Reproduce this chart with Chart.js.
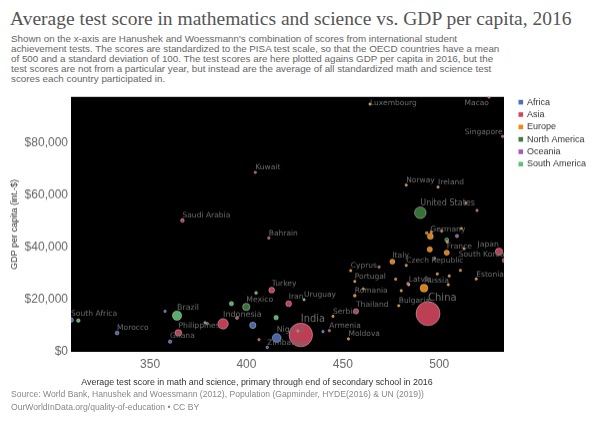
<!DOCTYPE html>
<html>
<head>
<meta charset="utf-8">
<script src="https://cdn.jsdelivr.net/npm/chart.js@4.4.1/dist/chart.umd.min.js"></script>
<style>
  body { margin: 0; width: 600px; height: 424px; background: #fff; position: relative; overflow: hidden;
         font-family: "Liberation Sans", Arial, sans-serif; }
  #title { position: absolute; left: 10px; top: 8px; font-family: "Liberation Serif", serif;
           font-size: 19.5px; color: #555; white-space: nowrap; }
  #subtitle { position: absolute; left: 11px; top: 34px; font-size: 9.8px; line-height: 10.1px;
              color: #666; white-space: nowrap; }
  #chartBox { position: absolute; left: 0; top: 84.3px; width: 600px; height: 305.7px; }
  #footer { position: absolute; left: 11px; top: 388px; font-size: 8.6px; line-height: 12.5px; color: #888; white-space: nowrap; }
</style>
</head>
<body>
<div id="title">Average test score in mathematics and science vs. GDP per capita, 2016</div>
<div id="subtitle">Shown on the x-axis are Hanushek and Woessmann's combination of scores from international student<br>achievement tests. The scores are standardized to the PISA test scale, so that the OECD countries have a mean<br>of 500 and a standard deviation of 100. The test scores are here plotted agains GDP per capita in 2016, but the<br>test scores are not from a particular year, but instead are the average of all standardized math and science test<br>scores each country participated in.</div>
<div id="chartBox"><canvas id="scatterCanvas"></canvas></div>
<div id="footer">Source: World Bank, Hanushek and Woessmann (2012), Population (Gapminder, HYDE(2016) &amp; UN (2019))<br>OurWorldInData.org/quality-of-education • CC BY</div>
<script>
// values
const countries = [
  "South Africa","Morocco","Ghana","Botswana","Tunisia","Egypt","Nigeria","Zimbabwe","Swaziland",
  "Philippines","Indonesia","Sri Lanka","Kyrgyzstan","Turkey","Iran","India","Jordan","Armenia","Thailand",
  "Israel","Kazakhstan","China","Japan","South Korea","Hong Kong","Singapore","Macao","Kuwait","Saudi Arabia","Bahrain",
  "Albania","Moldova","Serbia","Romania","Portugal","Cyprus","Greece","Bulgaria","Italy","Czech Republic",
  "Slovakia","Latvia","Lithuania","Russia","Slovenia","Hungary","Malta","Iceland","Estonia","Norway","Ireland",
  "Luxembourg","Switzerland","Germany","Netherlands","Sweden","Austria","Denmark","Belgium","France",
  "United Kingdom","Finland",
  "Mexico","United States","Canada",
  "Australia","New Zealand",
  "Peru","Brazil","Argentina","Chile","Colombia","Uruguay"
];
const continents = [
  "Africa","Africa","Africa","Africa","Africa","Africa","Africa","Africa","Africa",
  "Asia","Asia","Asia","Asia","Asia","Asia","Asia","Asia","Asia","Asia",
  "Asia","Asia","Asia","Asia","Asia","Asia","Asia","Asia","Asia","Asia","Asia",
  "Europe","Europe","Europe","Europe","Europe","Europe","Europe","Europe","Europe","Europe",
  "Europe","Europe","Europe","Europe","Europe","Europe","Europe","Europe","Europe","Europe","Europe",
  "Europe","Europe","Europe","Europe","Europe","Europe","Europe","Europe","Europe",
  "Europe","Europe",
  "North America","North America","North America",
  "Oceania","Oceania",
  "South America","South America","South America","South America","South America","South America"
];
const scores = [
  309.0, 332.9, 360.4, 357.8, 379.7, 403.3, 415.7, 410.8, 439.7,
  364.7, 387.9, 395.1, 406.5, 413.1, 421.9, 428.2, 426.8, 443.0, 456.8,
  468.8, 483.8, 494.2, 531.0, 533.9, 519.6, 532.9, 525.8, 404.6, 366.8, 411.6,
  378.5, 452.9, 444.9, 456.2, 456.2, 454.1, 460.6, 479.0, 475.7, 482.9,
  477.4, 484.2, 480.3, 492.1, 499.0, 504.7, 505.2, 511.0, 519.2, 482.9, 499.4,
  464.1, 513.9, 495.4, 493.5, 495.9, 501.3, 511.5, 504.2, 503.9,
  495.1, 512.9,
  399.9, 490.2, 503.9,
  509.2, 497.7,
  312.8, 364.0, 392.2, 405.0, 415.4, 429.9
];
const gdpPerCapita = [
  12220, 7260, 3940, 15510, 10810, 10160, 5350, 1720, 7760,
  7300, 10730, 12990, 4700, 23610, 18450, 6490, 8020, 8140, 15510,
  32470, 26090, 14630, 38320, 34990, 54090, 82360, 97410, 68610, 50270, 43550,
  11190, 4970, 13600, 21510, 26970, 31060, 24070, 17690, 34500, 33080,
  27810, 25710, 23420, 24370, 29800, 25710, 29030, 31170, 27890, 63790, 63030,
  94740, 56920, 44160, 45460, 45840, 46220, 47220, 42020, 37930,
  39190, 39460,
  17190, 53210, 42900,
  44310, 35760,
  11960, 13870, 18450, 22540, 13100, 19980
];
// population, millions (sets bubble size)
const population = [
  56, 35, 28, 2.2, 11, 95, 186, 16, 1.3,
  104, 261, 21, 6, 80, 80, 1324, 9.5, 2.9, 69,
  8.5, 18, 1379, 127, 51, 7.3, 5.6, 0.6, 4, 32, 1.4,
  2.9, 3.5, 7, 19.7, 10.3, 1.2, 10.8, 7.1, 60.6, 10.6,
  5.4, 2, 2.9, 144, 2.1, 9.8, 0.4, 0.3, 1.3, 5.2, 4.7,
  0.58, 8.4, 82, 17, 10, 8.7, 5.7, 11.3, 65,
  66, 5.5,
  127, 323, 36,
  24, 4.7,
  31, 207, 44, 18, 48, 3.4
];
const labelled = [
  "South Africa","Morocco","Ghana","Philippines","Brazil","Indonesia","Mexico","Turkey","Iran","Uruguay",
  "India","Nigeria","Zimbabwe","Armenia","Moldova","Serbia","Thailand","Romania","Portugal","Cyprus",
  "Bulgaria","Italy","Czech Republic","Latvia","Russia","China","Estonia","Japan","South Korea","France",
  "Germany","United States","Norway","Ireland","Singapore","Macao","Luxembourg","Kuwait","Saudi Arabia","Bahrain"
];
const regions = ["Africa", "Asia", "Europe", "North America", "Oceania", "South America"];
const regionColors = ["#4f6eb8", "#d0455c", "#ee8a12", "#3d7c3e", "#a056c0", "#5fbf74"];
const xTicks = [350, 400, 450, 500];
const yTicks = [0, 20000, 40000, 60000, 80000];
const xTitle = "Average test score in math and science, primary through end of secondary school in 2016";

const maxPop = 1379;
function bubbleRadius(pop) {
  return Math.max(1.2, 12 * Math.sqrt(pop / maxPop));
}

const datasets = regions.map((region, k) => {
  const points = [];
  countries.forEach((name, i) => {
    if (continents[i] !== region) return;
    points.push({ x: scores[i], y: gdpPerCapita[i], r: bubbleRadius(population[i]), name: name, pop: population[i] });
  });
  return {
    label: region,
    data: points,
    backgroundColor: regionColors[k] + "e8",
    borderColor: "rgba(255,255,255,0.45)",
    borderWidth: 0.8
  };
});

// black plot area like the reference
const plotBackground = {
  id: "plotBackground",
  beforeDraw(chart) {
    const { ctx, chartArea: a } = chart;
    ctx.save();
    ctx.fillStyle = "#000";
    ctx.fillRect(a.left, a.top, a.right - a.left, a.bottom - a.top);
    ctx.restore();
  }
};

// country names next to their bubbles
const pointLabels = {
  id: "pointLabels",
  afterDatasetsDraw(chart) {
    const { ctx, chartArea: a } = chart;
    ctx.save();
    ctx.fillStyle = "#6e6e6e";
    ctx.textBaseline = "middle";
    chart.data.datasets.forEach((ds, k) => {
      chart.getDatasetMeta(k).data.forEach((pt, i) => {
        const d = ds.data[i];
        if (!labelled.includes(d.name)) return;
        const size = 7.5 + 2.5 * (d.pop / maxPop);
        ctx.font = size.toFixed(2) + 'px "DejaVu Sans"';
        const w = ctx.measureText(d.name).width;
        let x = pt.x;
        if (x + w > a.right) x = pt.x - w;
        const y = Math.max(pt.y - d.r - 3.5, a.top + 6);
        ctx.fillText(d.name, x, y);
      });
    });
    ctx.restore();
  }
};

// legend on the right and the x-axis title (sits left of the plot centre in the original)
const sideLegend = {
  id: "sideLegend",
  afterDraw(chart) {
    const { ctx, chartArea: a } = chart;
    ctx.save();
    ctx.font = '9px "Liberation Sans"';
    ctx.textBaseline = "middle";
    regions.forEach((region, k) => {
      const y = a.top + 5.3 + k * 12.35;
      ctx.fillStyle = regionColors[k];
      ctx.fillRect(a.right + 14.5, y - 2.3, 4.6, 4.6);
      ctx.fillStyle = "#333";
      ctx.fillText(region, a.right + 23, y);
    });
    ctx.font = '8.85px "Liberation Sans"';
    ctx.textAlign = "center";
    ctx.fillText(xTitle, (a.left + a.right) / 2 - 30.5, a.bottom + 30.4);
    ctx.restore();
  }
};

const scatterCanvas = document.getElementById("scatterCanvas");
const scatterChart = new Chart(scatterCanvas, {
  type: "bubble",
  data: { datasets: datasets },
  plugins: [plotBackground, pointLabels, sideLegend],
  options: {
    responsive: true,
    maintainAspectRatio: false,
    animation: false,
    layout: { padding: { top: 6, right: 96, left: 0, bottom: 0 } },
    plugins: {
      legend: { display: false },
      tooltip: { enabled: false }
    },
    scales: {
      x: {
        type: "linear",
        min: 309,
        max: 533.6,
        grid: { display: false, drawTicks: false },
        border: { display: false },
        afterBuildTicks: axis => { axis.ticks = xTicks.map(v => ({ value: v })); },
        afterFit: axis => { axis.height = 38.7; },
        ticks: { color: "#666", padding: 5, font: { family: "Liberation Sans", size: 12 } }
      },
      y: {
        type: "linear",
        min: 0,
        max: 97500,
        grid: { display: false, drawTicks: false },
        border: { display: false },
        afterBuildTicks: axis => { axis.ticks = yTicks.map(v => ({ value: v })); },
        afterFit: axis => { axis.width = 71; },
        ticks: {
          color: "#666",
          padding: 3,
          font: { family: "Liberation Sans", size: 12 },
          callback: v => "$" + v.toLocaleString("en-US")
        },
        title: {
          display: true,
          text: "GDP per capita (int.-$)",
          color: "#333",
          font: { family: "Liberation Sans", size: 9 },
          padding: { top: 9, bottom: 0 }
        }
      }
    }
  }
});
</script>
</body>
</html>
